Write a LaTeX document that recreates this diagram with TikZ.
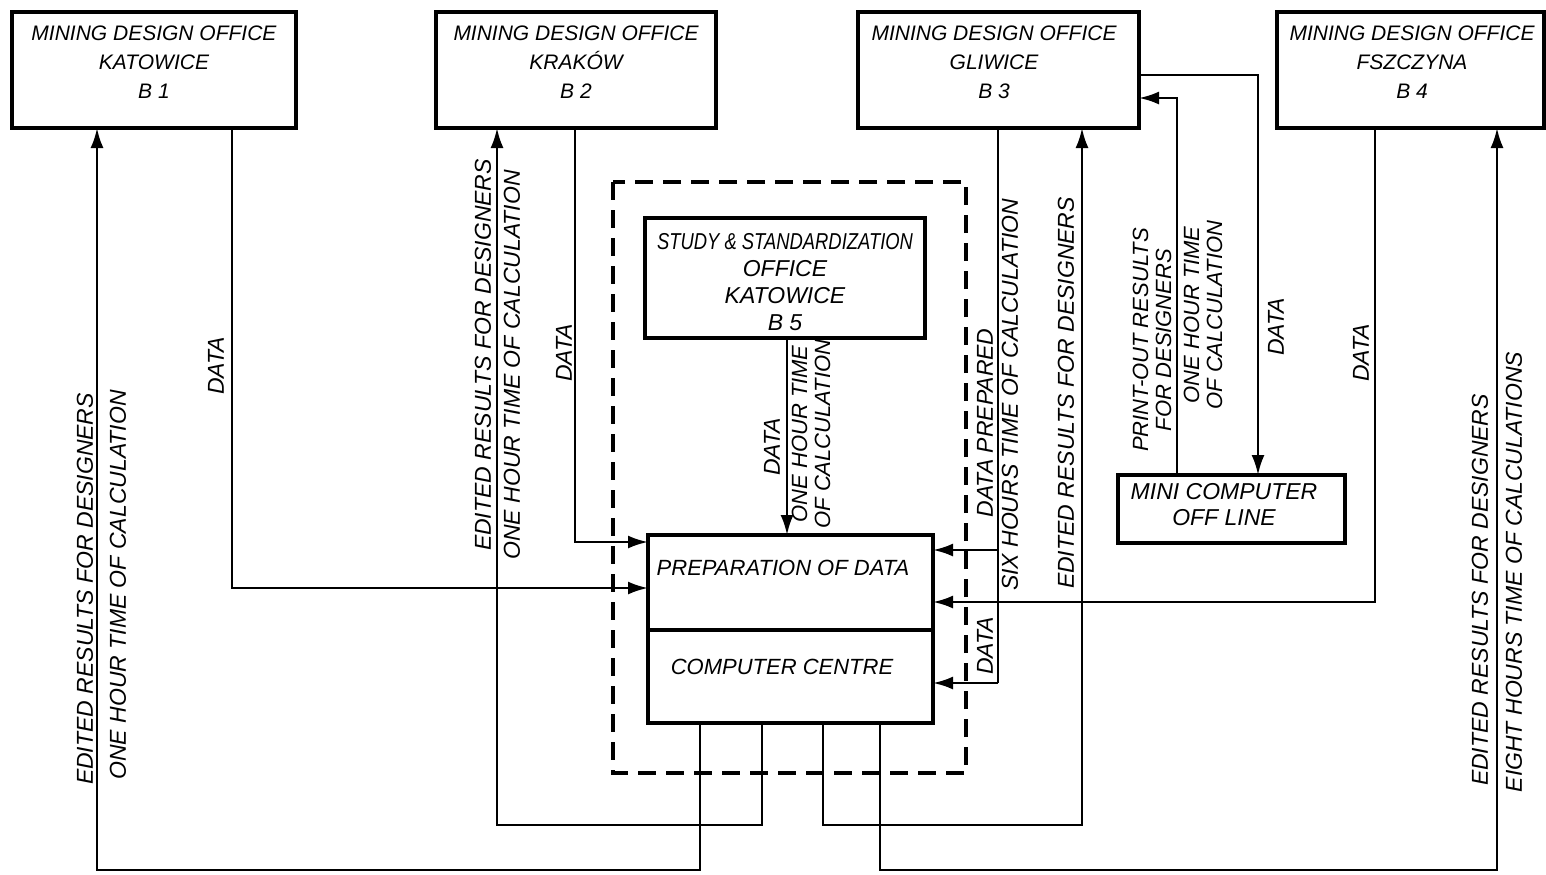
\documentclass[tikz,border=0pt]{standalone}
\usepackage{fontspec}
\usepackage{graphicx}
\setmainfont{Liberation Sans}
\usetikzlibrary{arrows.meta}
\begin{document}
\begin{tikzpicture}[x=0.5pt,y=-0.5pt,
  box/.style={draw,line width=1.8pt,rectangle,inner sep=0pt,outer sep=0pt},
  btxt/.style={font=\fontsize{10.5}{14.5}\selectfont\itshape,align=center,inner sep=0pt},
  lbl/.style={font=\fontsize{11.5}{12}\selectfont\itshape,rotate=90,inner sep=0pt},
  lbltwo/.style={font=\fontsize{11}{11.5}\selectfont\itshape,rotate=90,align=center,inner sep=0pt},
  conn/.style={line width=1.25pt},
  arr/.style={conn,-{Latex[length=10pt,width=6.5pt]}},
  dashbox/.style={line width=1.6pt,dash pattern=on 9pt off 5pt}
]
\useasboundingbox (0,0) rectangle (1546,874);

% top boxes
\node[box,minimum width=142pt,minimum height=58pt] (B1) at (154,70) {};
\node[box,minimum width=140pt,minimum height=58pt] (B2) at (576,70) {};
\node[box,minimum width=140.5pt,minimum height=58pt] (B3) at (998.5,70) {};
\node[box,minimum width=133.5pt,minimum height=58pt] (B4) at (1410.5,70) {};
\node[btxt] (B1t) at (154,62) {MINING DESIGN OFFICE\\KATOWICE\\B 1};
\node[btxt] (B2t) at (576,62) {MINING DESIGN OFFICE\\KRAKÓW\\B 2};
\node[btxt] (B3t) at (994,62) {MINING DESIGN OFFICE\\GLIWICE\\B 3};
\node[btxt] (B4t) at (1412,62) {MINING DESIGN OFFICE\\FSZCZYNA\\B 4};

% dashed centre
\draw[dashbox] (613,182) rectangle (966,773);
\node[box,minimum width=140pt,minimum height=60pt] (B5) at (785,278) {};
\node[btxt,font=\fontsize{11.5}{13.5}\selectfont\itshape] (B5t) at (785,282)
  {\scalebox{0.8}[1]{STUDY \& STANDARDIZATION}\\OFFICE\\KATOWICE\\B 5};
\node[box,minimum width=142.5pt,minimum height=47.5pt] (prep) at (790.5,582.5) {};
\node[box,minimum width=142.5pt,minimum height=46.5pt] (cc) at (790.5,676.5) {};
\node[btxt,font=\fontsize{11}{13}\selectfont\itshape] (prept) at (783,568) {PREPARATION OF DATA};
\node[btxt,font=\fontsize{11}{13}\selectfont\itshape] (cct) at (782,667) {COMPUTER CENTRE};

% mini computer
\node[box,minimum width=113.5pt,minimum height=34pt] (mini) at (1231.5,509) {};
\node[btxt,font=\fontsize{11.5}{13}\selectfont\itshape] (minit) at (1224,505) {MINI COMPUTER\\OFF LINE};

% routing coordinates
\coordinate (k1) at (97,870);  \coordinate (k1b) at (700,870);
\coordinate (d1) at (232,588);
\coordinate (k2) at (497,825); \coordinate (k2b) at (762,825);
\coordinate (d2) at (575,542);
\coordinate (d5) at (787,400);
\coordinate (d3) at (998,550); \coordinate (d3b) at (998,683);
\coordinate (k3) at (1082,825); \coordinate (k3b) at (823,825);
\coordinate (m1) at (1258,75); \coordinate (m2) at (1177,98);
\coordinate (d4) at (1375,602);
\coordinate (k4) at (1497,870); \coordinate (k4b) at (880,870);

% connectors
\draw[arr] (cc.south -| k1b) |- (k1) -- (B1.south -| k1);
\draw[arr] (B1.south -| d1) |- (prep.west |- d1);
\draw[arr] (cc.south -| k2b) |- (k2) -- (B2.south -| k2);
\draw[arr] (B2.south -| d2) |- (prep.west |- d2);
\draw[arr] (B5.south -| d5) -- (prep.north -| d5);
\draw[conn] (B3.south -| d3) -- (d3b);
\draw[arr] (d3b) -- (cc.east |- d3b);
\draw[arr] (d3) -- (prep.east |- d3);
\draw[arr] (cc.south -| k3b) |- (k3) -- (B3.south -| k3);
\draw[arr] (B3.east |- m1) -| (mini.north -| m1);
\draw[arr] (mini.north -| m2) |- (B3.east |- m2);
\draw[arr] (B4.south -| d4) |- (prep.east |- d4);
\draw[arr] (cc.south -| k4b) |- (k4) -- (B4.south -| k4);

% labels
\node[lbl] (l1a) at (85,589) {EDITED RESULTS FOR DESIGNERS};
\node[lbl] (l1b) at (118,585) {ONE HOUR TIME OF CALCULATION};
\node[lbl] (l1d) at (216,366) {DATA};
\node[lbl] (l2a) at (483,355) {EDITED RESULTS FOR DESIGNERS};
\node[lbl] (l2b) at (512,365) {ONE HOUR TIME OF CALCULATION};
\node[lbl] (l2d) at (564,353) {DATA};
\node[lbl] (l5d) at (772,447) {DATA};
\node[lbltwo] (l5t) at (811,434) {ONE HOUR TIME\\OF CALCULATION};
\node[lbl] (l3p) at (985,423) {DATA PREPARED};
\node[lbl] (l3s) at (1010,395) {SIX HOURS TIME OF CALCULATION};
\node[lbl] (l3d) at (985,646) {DATA};
\node[lbl] (l3e) at (1066,393) {EDITED RESULTS FOR DESIGNERS};
\node[lbltwo] (lmp) at (1152,340) {PRINT-OUT RESULTS\\FOR DESIGNERS};
\node[lbltwo] (lmt) at (1203,315) {ONE HOUR TIME\\OF CALCULATION};
\node[lbl] (lmd) at (1276,327) {DATA};
\node[lbl] (l4d) at (1361,353) {DATA};
\node[lbl] (l4e) at (1480,590) {EDITED RESULTS FOR DESIGNERS};
\node[lbl] (l4t) at (1514,572) {EIGHT HOURS TIME OF CALCULATIONS};
\end{tikzpicture}
\end{document}
